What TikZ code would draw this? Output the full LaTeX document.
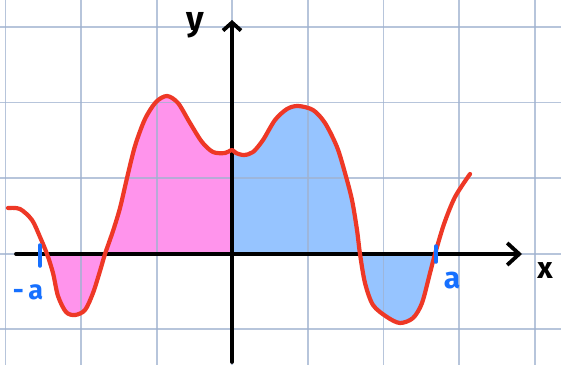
\documentclass[tikz,border=0pt]{standalone}
\usepackage{fontspec}
\setmainfont{Fira Sans}
\usetikzlibrary{arrows.meta}
\definecolor{gridc}{RGB}{160,178,208}
\definecolor{curvec}{RGB}{238,56,38}
\definecolor{pinkc}{RGB}{255,148,236}
\definecolor{bluec}{RGB}{150,196,255}
\definecolor{labc}{RGB}{22,112,255}
\newcommand{\fxcurve}{plot[smooth,tension=0.5] coordinates {(8,208) (20,209) (32,220) (40,237) (47,254) (53,273) (58,296) (66,312) (75,315) (85,310) (93,293) (100,271) (105,254) (113,231) (120,208) (127,178) (135,146) (145,119) (156,102) (167,96) (178,103) (190,123) (202,142) (213,152) (225,153) (232,150) (236,153) (244,155) (253,152) (263,140) (275,120) (287,109) (298,106) (313,110) (325,123) (337,147) (345,173) (352,200) (357,230) (360,254) (365,283) (373,305) (387,317) (400,323) (413,318) (422,303) (430,273) (435,254) (444,224) (455,197) (470,174)}}
\begin{document}
\begin{tikzpicture}[x=1pt,y=-1pt,
  gridline/.style={gridc, line width=1.8pt, opacity=0.75},
  axisline/.style={black, line width=3.8pt, line cap=round},
  fcurve/.style={curvec, line width=4.2pt, line cap=round, line join=round},
  tickmark/.style={labc, line width=3.5pt, line cap=round},
  hand/.style={font=\fontsize{30}{30}\selectfont\bfseries, inner sep=0pt}]
\useasboundingbox (0,0) rectangle (561,365);
\fill[white] (0,0) rectangle (561,365);
% shaded areas
\begin{scope}
  \clip (47,0) rectangle (232.3,365);
  \fill[pinkc] \fxcurve -- (470,254) -- (8,254) -- cycle;
\end{scope}
\begin{scope}
  \clip (232.3,0) rectangle (435,365);
  \fill[bluec] \fxcurve -- (470,254) -- (8,254) -- cycle;
\end{scope}
% grid
\foreach \gx in {5.5,81.1,156.7,232.3,307.9,383.5,459.1,534.7}
  \draw[gridline] (\gx,0) -- (\gx,365);
\foreach \gy in {26.9,102.5,178.1,253.7,329.3}
  \draw[gridline] (0,\gy) -- (561,\gy);
% axes
\coordinate (ybot) at (232,362);
\coordinate (ytop) at (232,20);
\coordinate (xleft) at (16,254);
\coordinate (xright) at (522,254);
\draw[axisline, -{Straight Barb[length=8pt,width=18pt]}] (ybot) -- (ytop);
\draw[axisline, -{Straight Barb[length=12pt,width=22pt]}] (xleft) -- (xright);
% curve
\draw[fcurve] \fxcurve;
% ticks
\coordinate (mat) at (40,245);
\coordinate (mab) at (40,266);
\coordinate (at) at (436,246);
\coordinate (ab) at (436,262);
\draw[tickmark] (mat) -- (mab);
\draw[tickmark] (at) -- (ab);
% labels
\node[hand, font=\fontsize{34}{34}\selectfont\bfseries] (ylab) at (195,25) {y};
\node[hand] (xlab) at (545,271) {x};
\node[hand, labc] (alab) at (452,281) {a};
\node[hand, labc, font=\fontsize{27}{27}\selectfont\bfseries] (malab) at (28,292) {-\,a};
\end{tikzpicture}
\end{document}
